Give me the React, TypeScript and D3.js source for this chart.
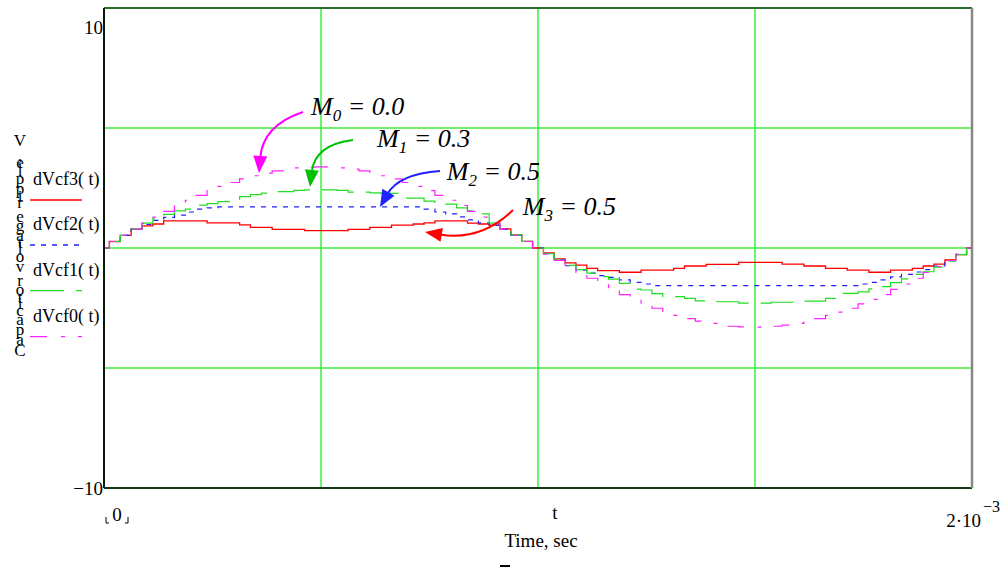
import React, { useMemo } from "react";
import * as d3 from "d3";

const W = 1005;
const H = 571;

// Sample instants, in milliseconds (one period of 2 ms, 0.025 ms apart)
const timeMs: number[] = d3.range(81).map((i) => i * 0.025);

// Capacitor voltage ripple traces, volts
const dVcf3: number[] = [
  0, 0.27, 0.53, 0.79, 0.92, 1.0, 1.13, 1.13, 1.13, 1.13,
  1.05, 1.05, 1.05, 0.96, 0.86, 0.86, 0.78, 0.78, 0.78, 0.72,
  0.72, 0.72, 0.72, 0.78, 0.78, 0.86, 0.86, 0.95, 0.95, 1.0,
  1.05, 1.13, 1.13, 1.13, 1.04, 1.0, 0.95, 0.8, 0.55, 0.28, 0,
  -0.2, -0.45, -0.62, -0.71, -0.85, -0.94, -0.94, -1.01, -1.01, -0.92,
  -0.92, -0.92, -0.85, -0.75, -0.75, -0.68, -0.68, -0.68, -0.6, -0.6,
  -0.6, -0.6, -0.67, -0.67, -0.75, -0.75, -0.85, -0.85, -0.92, -0.92,
  -1.01, -1.01, -0.92, -0.92, -0.85, -0.75, -0.67, -0.5, -0.28, 0,
];

const dVcf2: number[] = [
  0, 0.27, 0.53, 0.79, 0.98, 1.15, 1.28, 1.37, 1.5, 1.62,
  1.67, 1.71, 1.71, 1.71, 1.71, 1.71, 1.71, 1.71, 1.71, 1.71,
  1.71, 1.71, 1.71, 1.71, 1.71, 1.71, 1.71, 1.71, 1.71, 1.71,
  1.62, 1.5, 1.42, 1.3, 1.17, 1.05, 0.95, 0.78, 0.53, 0.27, 0,
  -0.24, -0.5, -0.74, -0.92, -1.05, -1.15, -1.22, -1.33, -1.43, -1.5,
  -1.57, -1.57, -1.57, -1.57, -1.57, -1.57, -1.57, -1.57, -1.57, -1.57,
  -1.57, -1.57, -1.57, -1.57, -1.57, -1.57, -1.57, -1.57, -1.57, -1.5,
  -1.43, -1.33, -1.2, -1.1, -1.0, -0.9, -0.75, -0.52, -0.26, 0,
];

const dVcf1: number[] = [
  0, 0.27, 0.53, 0.79, 1.04, 1.22, 1.4, 1.55, 1.62, 1.79,
  1.85, 1.93, 1.93, 2.14, 2.22, 2.29, 2.35, 2.35, 2.4, 2.42,
  2.42, 2.42, 2.4, 2.33, 2.33, 2.3, 2.28, 2.28, 2.08, 2.08,
  1.95, 1.87, 1.83, 1.67, 1.55, 1.42, 1.04, 0.8, 0.55, 0.28, 0,
  -0.24, -0.5, -0.72, -0.9, -1.05, -1.19, -1.3, -1.47, -1.71, -1.75,
  -1.9, -2.03, -2.03, -2.1, -2.2, -2.24, -2.24, -2.24, -2.3, -2.3,
  -2.3, -2.26, -2.26, -2.21, -2.21, -2.21, -2.1, -1.89, -1.89, -1.83,
  -1.7, -1.61, -1.44, -1.29, -1.1, -0.99, -0.8, -0.55, -0.28, 0,
];

const dVcf0: number[] = [
  0, 0.27, 0.53, 0.79, 1.04, 1.29, 1.53, 1.77, 1.99, 2.19,
  2.39, 2.57, 2.73, 2.88, 3.01, 3.12, 3.21, 3.29, 3.34, 3.37,
  3.38, 3.37, 3.34, 3.29, 3.21, 3.12, 3.01, 2.88, 2.73, 2.57,
  2.39, 2.19, 1.99, 1.77, 1.53, 1.29, 1.04, 0.79, 0.53, 0.27, 0,
  -0.26, -0.52, -0.77, -1.02, -1.26, -1.5, -1.72, -1.94, -2.14, -2.33,
  -2.51, -2.67, -2.81, -2.94, -3.05, -3.14, -3.21, -3.26, -3.29, -3.3,
  -3.29, -3.26, -3.21, -3.14, -3.05, -2.94, -2.81, -2.67, -2.51, -2.33,
  -2.14, -1.94, -1.72, -1.5, -1.26, -1.02, -0.77, -0.52, -0.26, 0,
];

const seriesNames = ["dVcf3( t)", "dVcf2( t)", "dVcf1( t)", "dVcf0( t)"];
const seriesValues = [dVcf3, dVcf2, dVcf1, dVcf0];
const seriesColors = ["#ff0000", "#2020ff", "#22dd22", "#ff22ff"];
const seriesDash = ["none", "5,6", "34,12", "17,14,4,13"];

// Modulation index labels, with arrow geometry in data units (ms, V)
const mLabels = ["0", "1", "2", "3"];
const mValues = ["0.0", "0.3", "0.5", "0.5"];
const mColors = ["#ff00ff", "#00c000", "#2222ff", "#ff0000"];
const mText: [number, number][] = [[0.477, 5.54], [0.629, 4.21], [0.79, 2.83], [0.965, 1.375]];
const mStart: [number, number][] = [[0.4585, 5.667], [0.5737, 4.5], [0.7742, 3.208], [0.9424, 1.583]];
const mCtrl: [number, number][] = [[0.3664, 5.25], [0.4862, 4.417], [0.682, 3.167], [0.878, 0.25]];
const mTip: [number, number][] = [[0.3571, 3.125], [0.4747, 2.542], [0.636, 1.708], [0.7396, 0.667]];

const xGrid = [0.5, 1.0, 1.5];
const yGrid = [-5, 0, 5];

const yTitle = "Capacitor voltage ripple, V";
const SERIF = "'Liberation Serif', 'Times New Roman', serif";

export default function App() {
  const x = d3.scaleLinear().domain([0, 2]).range([104, 972]);
  const y = d3.scaleLinear().domain([-10, 10]).range([488, 8]);

  const line = d3
    .line<number>()
    .x((_, i) => x(timeMs[i]))
    .y((d) => y(d))
    .curve(d3.curveStep);

  // upright glyphs of the vertical axis title, spaced by their advance widths
  const titleGlyphs = useMemo(() => {
    const canvas = document.createElement("canvas");
    const ctx = canvas.getContext("2d");
    const chars = yTitle.split("");
    const widths = chars.map((c) => {
      if (!ctx) return 8;
      ctx.font = `17px ${SERIF}`;
      return ctx.measureText(c).width;
    });
    const total = d3.sum(widths) - widths[0] / 2 - widths[widths.length - 1] / 2;
    const bottom = 350;
    const top = 140;
    const k = (bottom - top) / total;
    let acc = 0;
    return chars.map((c, i) => {
      const pos = i === 0 ? 0 : (acc += (widths[i - 1] / 2 + widths[i] / 2));
      return { c, cy: bottom - pos * k };
    });
  }, []);

  const legendY = [185, 230, 275.7, 321.7];

  return (
    <svg
      width={W}
      height={H}
      style={{ position: "absolute", left: 0, top: 0, background: "#fff" }}
      fontFamily={SERIF}
    >
      <defs>
        <clipPath id="plotClip">
          <rect x={104} y={8} width={868} height={480} />
        </clipPath>
      </defs>

      {/* grid */}
      {yGrid.map((v) => (
        <line key={"gy" + v} x1={105} x2={971} y1={y(v)} y2={y(v)} stroke="#6ef06e" strokeWidth={2} />
      ))}
      {xGrid.map((t) => (
        <line key={"gx" + t} x1={x(t)} x2={x(t)} y1={9} y2={487} stroke="#3cee3c" strokeWidth={1.5} />
      ))}

      {/* traces */}
      <g clipPath="url(#plotClip)">
        {seriesValues.map((vals, i) => (
          <path
            key={seriesNames[i]}
            d={line(vals) || ""}
            fill="none"
            stroke={seriesColors[i]}
            strokeWidth={i === 0 ? 1.3 : 1.2}
            strokeDasharray={seriesDash[i]}
          />
        ))}
      </g>

      {/* frame */}
      <line x1={104} x2={972} y1={8} y2={8} stroke="#2b6e2b" strokeWidth={2} />
      <line x1={104} x2={972} y1={488} y2={488} stroke="#163816" strokeWidth={2} />
      <line x1={104} x2={104} y1={8} y2={488} stroke="#0a1a0a" strokeWidth={2} />
      <line x1={972} x2={972} y1={8} y2={488} stroke="#888888" strokeWidth={2.5} />

      {/* annotations */}
      {mLabels.map((lbl, i) => {
        const s = [x(mStart[i][0]), y(mStart[i][1])];
        const c = [x(mCtrl[i][0]), y(mCtrl[i][1])];
        const t = [x(mTip[i][0]), y(mTip[i][1])];
        const dx = t[0] - c[0];
        const dy = t[1] - c[1];
        const len = Math.hypot(dx, dy);
        const ux = dx / len;
        const uy = dy / len;
        const headL = 17;
        const headW = 7;
        const b = [t[0] - ux * headL, t[1] - uy * headL];
        const c2 = [c[0] + (b[0] - c[0]) * 0.1, c[1] + (b[1] - c[1]) * 0.1];
        const head = `M${t[0]},${t[1]} L${b[0] - uy * headW},${b[1] + ux * headW} L${b[0] + uy * headW},${b[1] - ux * headW} Z`;
        return (
          <g key={"m" + lbl}>
            <path
              d={`M${s[0]},${s[1]} Q${c2[0]},${c2[1]} ${b[0] + ux * 2},${b[1] + uy * 2}`}
              fill="none"
              stroke={mColors[i]}
              strokeWidth={2}
            />
            <path d={head} fill={mColors[i]} />
            <text
              x={x(mText[i][0])}
              y={y(mText[i][1])}
              fontSize={26}
              fontStyle="italic"
              fill="#000"
            >
              M
              <tspan fontSize={17} dy={6}>{lbl}</tspan>
              <tspan dy={-6}>{` = ${mValues[i]}`}</tspan>
            </text>
          </g>
        );
      })}

      {/* legend */}
      {seriesNames.map((name, i) => (
        <g key={"lg" + name}>
          <text x={33} y={legendY[i]} fontSize={18} fill="#000">{name}</text>
          <line
            x1={30}
            x2={82}
            y1={legendY[i] + 15}
            y2={legendY[i] + 15}
            stroke={seriesColors[i]}
            strokeWidth={1.3}
            strokeDasharray={seriesDash[i]}
          />
        </g>
      ))}

      {/* vertical axis title, one text element with per-glyph positions */}
      <text fontSize={17} textAnchor="middle" fill="#000">
        {titleGlyphs.map((g, i) => (
          <tspan key={"yt" + i} x={20} y={g.cy + 6}>
            {g.c}
          </tspan>
        ))}
      </text>

      {/* axis limits */}
      <text x={103} y={34} fontSize={19} textAnchor="end">10</text>
      <text x={103} y={495} fontSize={19} textAnchor="end">−10</text>
      <text x={117} y={521} fontSize={19} textAnchor="middle">0</text>
      <path d="M106,517 V523 H109 M128,517 V523 H125" fill="none" stroke="#000" strokeWidth={1} />
      <text x={555} y={519} fontSize={19} textAnchor="middle">t</text>
      <text x={981} y={527} fontSize={19} textAnchor="end">2·10</text>
      <text x={983} y={512} fontSize={16}>−3</text>
      <text x={541} y={547} fontSize={19} textAnchor="middle">Time, sec</text>
      <rect x={500} y={565} width={10} height={2} fill="#000" />
    </svg>
  );
}
